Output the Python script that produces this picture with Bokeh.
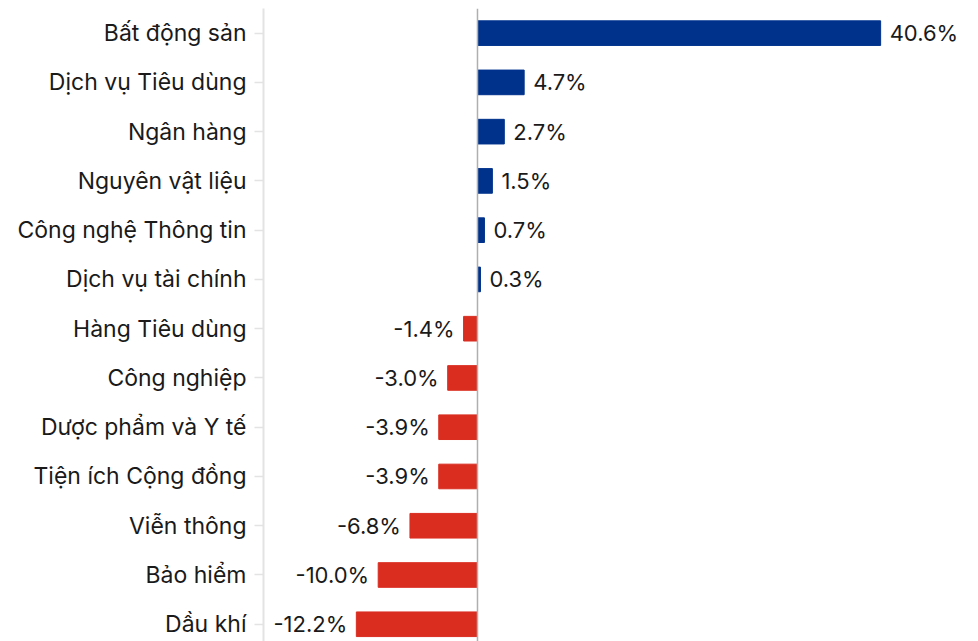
from bokeh.plotting import figure
from bokeh.models import ColumnDataSource, Range1d, FixedTicker, Span
from bokeh.embed import file_html
from bokeh.resources import INLINE
from bokeh.core.properties import value

categories = ["Bất động sản", "Dịch vụ Tiêu dùng", "Ngân hàng", "Nguyên vật liệu",
              "Công nghệ Thông tin", "Dịch vụ tài chính", "Hàng Tiêu dùng", "Công nghiệp",
              "Dược phẩm và Y tế", "Tiện ích Cộng đồng", "Viễn thông", "Bảo hiểm", "Dầu khí"]
values = [40.6, 4.7, 2.7, 1.5, 0.7, 0.3, -1.4, -3.0, -3.9, -3.9, -6.8, -10.0, -12.2]

BLUE = "#00328C"
RED = "#DA2D20"

ypos = list(range(len(categories)))
colors = [BLUE if v >= 0 else RED for v in values]
labels = [f"{v:.1f}%" for v in values]
pos_lab = [l if v >= 0 else "" for l, v in zip(labels, values)]
neg_lab = [l if v < 0 else "" for l, v in zip(labels, values)]

src = ColumnDataSource(dict(y=ypos, v=values, c=colors, pl=pos_lab, nl=neg_lab))

p = figure(width=970, height=641, output_backend="svg", toolbar_location=None,
           x_range=Range1d(-21.55, 49.65), y_range=Range1d(12.35, -0.5),
           min_border_left=263, min_border_right=0, min_border_top=8, min_border_bottom=0)
p.outline_line_color = None
p.grid.visible = False
p.xaxis.visible = False

p.hbar(y="y", left=0, right="v", height=0.5, color="c", source=src)
p.add_layout(Span(location=0, dimension="height", line_color="#AFAFAF", line_width=1.5))

p.text(x="v", y="y", text="pl", source=src, x_offset=9, text_align="left",
       text_baseline="middle", text_font=value("Inter"), text_font_size="22px",
       text_color="#1a1a1a")
p.text(x="v", y="y", text="nl", source=src, x_offset=-9, text_align="right",
       text_baseline="middle", text_font=value("Inter"), text_font_size="22px",
       text_color="#1a1a1a")

ax = p.yaxis[0]
ax.ticker = FixedTicker(ticks=ypos)
ax.major_label_overrides = {i: c for i, c in zip(ypos, categories)}
ax.minor_tick_line_color = None
ax.major_tick_out = 9
ax.major_tick_in = 0
ax.major_tick_line_color = "#E3E3E3"
ax.major_tick_line_width = 1.5
ax.axis_line_color = "#E3E3E3"
ax.axis_line_width = 2
ax.major_label_standoff = 8
ax.major_label_text_font = "Inter"
ax.major_label_text_font_size = "23px"
ax.major_label_text_color = "#1a1a1a"

open("out.html", "w").write(file_html(p, INLINE))
